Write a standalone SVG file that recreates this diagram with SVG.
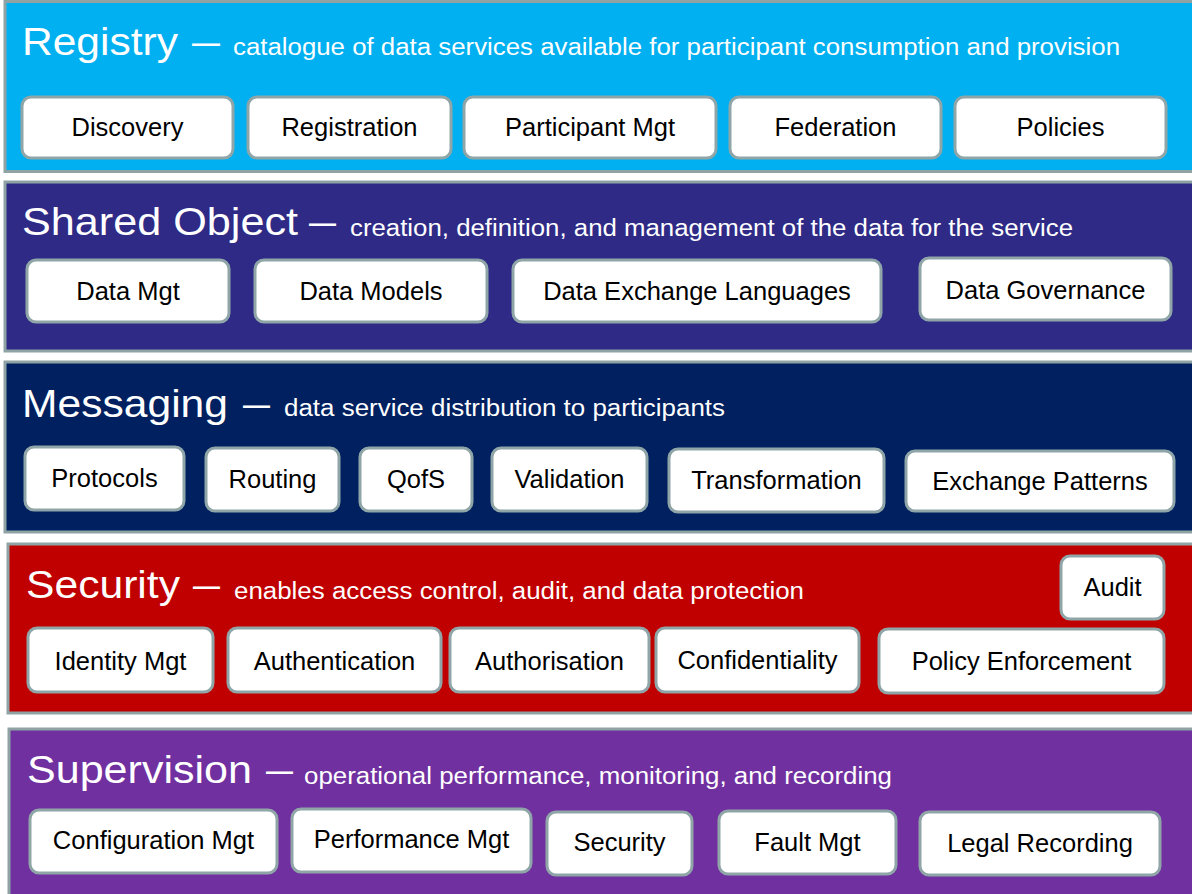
<svg xmlns="http://www.w3.org/2000/svg" width="1192" height="894" viewBox="0 0 1192 894">
<style>
.band{stroke:#8fa3a4;stroke-width:3}
.box rect{fill:#fff;stroke:#8fa5a7;stroke-width:3}
.box text{font-family:"Liberation Sans",Arial,sans-serif;font-size:25.5px;fill:#000;text-anchor:middle}
.title{font-family:"Liberation Sans",Arial,sans-serif;font-size:39px;fill:#fff}
.sub{font-family:"Liberation Sans",Arial,sans-serif;font-size:23px;fill:#fff}
</style>
<rect width="1192" height="894" fill="#fff"/>
<g id="registry">
<rect class="band" x="5" y="1.5" width="1190" height="170" fill="#00b0f0"/>
<text class="title" x="22" y="55" textLength="156" lengthAdjust="spacingAndGlyphs">Registry</text>
<text class="title" x="192" y="55" textLength="28" lengthAdjust="spacingAndGlyphs">–</text>
<text class="sub" x="233" y="55" textLength="887" lengthAdjust="spacingAndGlyphs">catalogue of data services available for participant consumption and provision</text>
</g>
<g id="discovery" class="box"><rect x="22" y="97" width="211" height="61" rx="9"/><text x="127.5" y="136">Discovery</text></g>
<g id="registration" class="box"><rect x="248" y="97" width="203" height="61" rx="9"/><text x="349.5" y="136">Registration</text></g>
<g id="participant-mgt" class="box"><rect x="464" y="97" width="252" height="61" rx="9"/><text x="590" y="136">Participant Mgt</text></g>
<g id="federation" class="box"><rect x="730" y="97" width="211" height="61" rx="9"/><text x="835.5" y="136">Federation</text></g>
<g id="policies" class="box"><rect x="955" y="97" width="211" height="61" rx="9"/><text x="1060.5" y="136">Policies</text></g>

<g id="shared-object">
<rect class="band" x="5" y="182" width="1190" height="169" fill="#2e2a86"/>
<text class="title" x="22" y="235" textLength="276" lengthAdjust="spacingAndGlyphs">Shared Object</text>
<text class="title" x="309" y="235" textLength="27" lengthAdjust="spacingAndGlyphs">–</text>
<text class="sub" x="350" y="236" textLength="723" lengthAdjust="spacingAndGlyphs">creation, definition, and management of the data for the service</text>
</g>
<g id="data-mgt" class="box"><rect x="27" y="260" width="202" height="62" rx="9"/><text x="128" y="300">Data Mgt</text></g>
<g id="data-models" class="box"><rect x="255" y="260" width="232" height="62" rx="9"/><text x="371" y="300">Data Models</text></g>
<g id="data-exchange-languages" class="box"><rect x="513" y="260" width="368" height="62" rx="9"/><text x="697" y="300">Data Exchange Languages</text></g>
<g id="data-governance" class="box"><rect x="920" y="258" width="251" height="62" rx="9"/><text x="1045.5" y="299">Data Governance</text></g>

<g id="messaging">
<rect class="band" x="5" y="362" width="1190" height="170" fill="#002060"/>
<text class="title" x="22" y="417" textLength="206" lengthAdjust="spacingAndGlyphs">Messaging</text>
<text class="title" x="243" y="417" textLength="27" lengthAdjust="spacingAndGlyphs">–</text>
<text class="sub" x="284" y="416" textLength="441" lengthAdjust="spacingAndGlyphs">data service distribution to participants</text>
</g>
<g id="protocols" class="box"><rect x="25" y="447" width="159" height="63" rx="9"/><text x="104.5" y="487">Protocols</text></g>
<g id="routing" class="box"><rect x="206" y="448" width="133" height="63" rx="9"/><text x="272.5" y="488">Routing</text></g>
<g id="qofs" class="box"><rect x="360" y="448" width="112" height="63" rx="9"/><text x="416" y="488">QofS</text></g>
<g id="validation" class="box"><rect x="492" y="448" width="155" height="63" rx="9"/><text x="569.5" y="488">Validation</text></g>
<g id="transformation" class="box"><rect x="669" y="449" width="215" height="63" rx="9"/><text x="776.5" y="489">Transformation</text></g>
<g id="exchange-patterns" class="box"><rect x="906" y="451" width="268" height="60" rx="9"/><text x="1040" y="490">Exchange Patterns</text></g>

<g id="security">
<rect class="band" x="8" y="544" width="1187" height="169" fill="#c00000"/>
<text class="title" x="26" y="598" textLength="154" lengthAdjust="spacingAndGlyphs">Security</text>
<text class="title" x="193" y="598" textLength="27" lengthAdjust="spacingAndGlyphs">–</text>
<text class="sub" x="234" y="599" textLength="570" lengthAdjust="spacingAndGlyphs">enables access control, audit, and data protection</text>
</g>
<g id="audit" class="box"><rect x="1061" y="556" width="103" height="63" rx="9"/><text x="1112.5" y="596">Audit</text></g>
<g id="identity-mgt" class="box"><rect x="28" y="628" width="185" height="64" rx="9"/><text x="120.5" y="670">Identity Mgt</text></g>
<g id="authentication" class="box"><rect x="228" y="628" width="213" height="64" rx="9"/><text x="334.5" y="670">Authentication</text></g>
<g id="authorisation" class="box"><rect x="450" y="628" width="199" height="64" rx="9"/><text x="549.5" y="670">Authorisation</text></g>
<g id="confidentiality" class="box"><rect x="656" y="628" width="203" height="64" rx="9"/><text x="757.5" y="669">Confidentiality</text></g>
<g id="policy-enforcement" class="box"><rect x="879" y="629" width="285" height="64" rx="9"/><text x="1021.5" y="670">Policy Enforcement</text></g>

<g id="supervision">
<rect class="band" x="9" y="729" width="1186" height="170" fill="#7030a0"/>
<text class="title" x="27" y="783" textLength="225" lengthAdjust="spacingAndGlyphs">Supervision</text>
<text class="title" x="266" y="783" textLength="27" lengthAdjust="spacingAndGlyphs">–</text>
<text class="sub" x="304" y="784" textLength="588" lengthAdjust="spacingAndGlyphs">operational performance, monitoring, and recording</text>
</g>
<g id="configuration-mgt" class="box"><rect x="30" y="810" width="247" height="63" rx="9"/><text x="153.5" y="849">Configuration Mgt</text></g>
<g id="performance-mgt" class="box"><rect x="292" y="809" width="239" height="63" rx="9"/><text x="411.5" y="848">Performance Mgt</text></g>
<g id="security-sup" class="box"><rect x="547" y="812" width="145" height="63" rx="9"/><text x="619.5" y="851">Security</text></g>
<g id="fault-mgt" class="box"><rect x="719" y="811" width="177" height="63" rx="9"/><text x="807.5" y="851">Fault Mgt</text></g>
<g id="legal-recording" class="box"><rect x="920" y="812" width="240" height="63" rx="9"/><text x="1040" y="852">Legal Recording</text></g>

<g id="connectors"/>
</svg>
